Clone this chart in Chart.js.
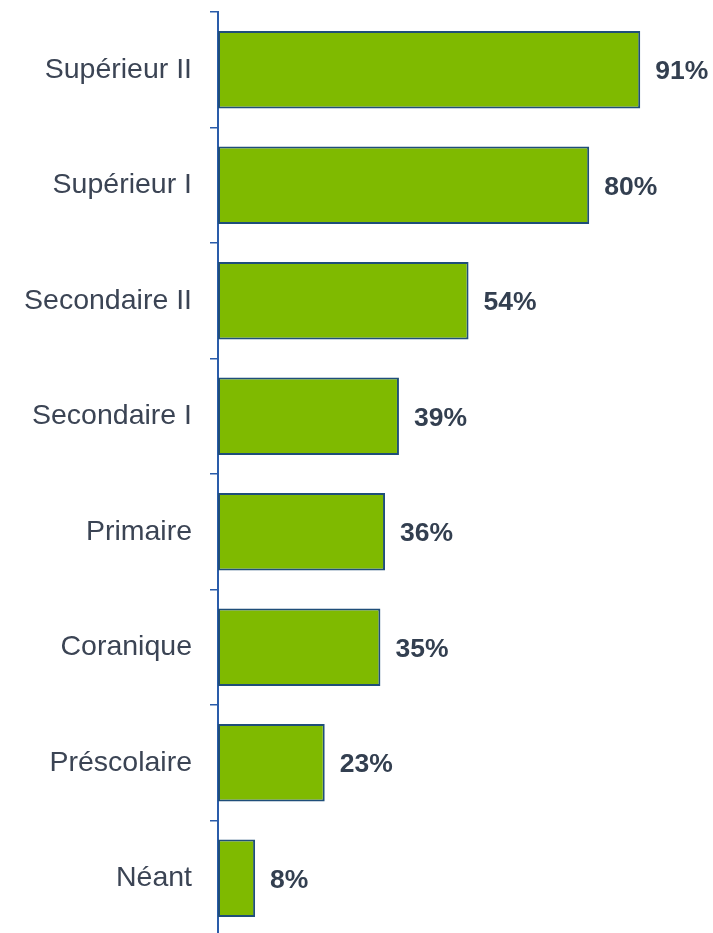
<!DOCTYPE html>
<html>
<head>
<meta charset="utf-8">
<script src="https://cdn.jsdelivr.net/npm/chart.js@4.4.0/dist/chart.umd.min.js"></script>
<style>
html,body{margin:0;padding:0;background:#fff;overflow:hidden;}
#wrap{position:relative;width:713px;height:940px;}
</style>
</head>
<body>
<div id="wrap"><canvas id="c"></canvas></div>
<script>
const categories = ["Supérieur II","Supérieur I","Secondaire II","Secondaire I","Primaire","Coranique","Préscolaire","Néant"];
const values = [91, 80, 54, 39, 36, 35, 23, 8];
const valueLabels = ["91%","80%","54%","39%","36%","35%","23%","8%"];

const valueLabelPlugin = {
  id: 'valueLabels',
  afterDatasetsDraw(chart) {
    const ctx = chart.ctx;
    const meta = chart.getDatasetMeta(0);
    ctx.save();
    ctx.font = 'bold 26.5px "Liberation Sans", Arial, sans-serif';
    ctx.fillStyle = '#333f50';
    ctx.textAlign = 'left';
    ctx.textBaseline = 'middle';
    meta.data.forEach((bar, i) => {
      ctx.fillText(valueLabels[i], bar.x + 15, bar.y + 2);
    });
    ctx.restore();
  }
};

new Chart(document.getElementById('c'), {
  type: 'bar',
  data: {
    labels: categories,
    datasets: [{
      data: values,
      backgroundColor: '#7fba00',
      borderColor: '#1f4e79',
      borderWidth: 2,
      borderSkipped: false,
      barPercentage: 0.67,
      categoryPercentage: 1.0
    }]
  },
  options: {
    indexAxis: 'y',
    responsive: true,
    maintainAspectRatio: false,
    animation: false,
    layout: { padding: { top: 12, bottom: 4, left: 0, right: 31 } },
    plugins: { legend: { display: false }, tooltip: { enabled: false } },
    scales: {
      x: { display: false, min: 0, max: 100 },
      y: {
        offset: true,
        afterFit(scale) { scale.width = 218; scale.paddingTop = 0; scale.paddingBottom = 0; },
        border: { display: true, color: '#2a5caa', width: 2 },
        grid: { display: true, drawOnChartArea: false, drawTicks: true, tickLength: 8, color: '#2a5caa', lineWidth: 1.5, offset: true },
        ticks: {
          color: '#3b4454',
          font: { family: '"Liberation Sans", Arial, sans-serif', size: 28.5 },
          padding: 18
        }
      }
    }
  },
  plugins: [valueLabelPlugin]
});
</script>
</body>
</html>
